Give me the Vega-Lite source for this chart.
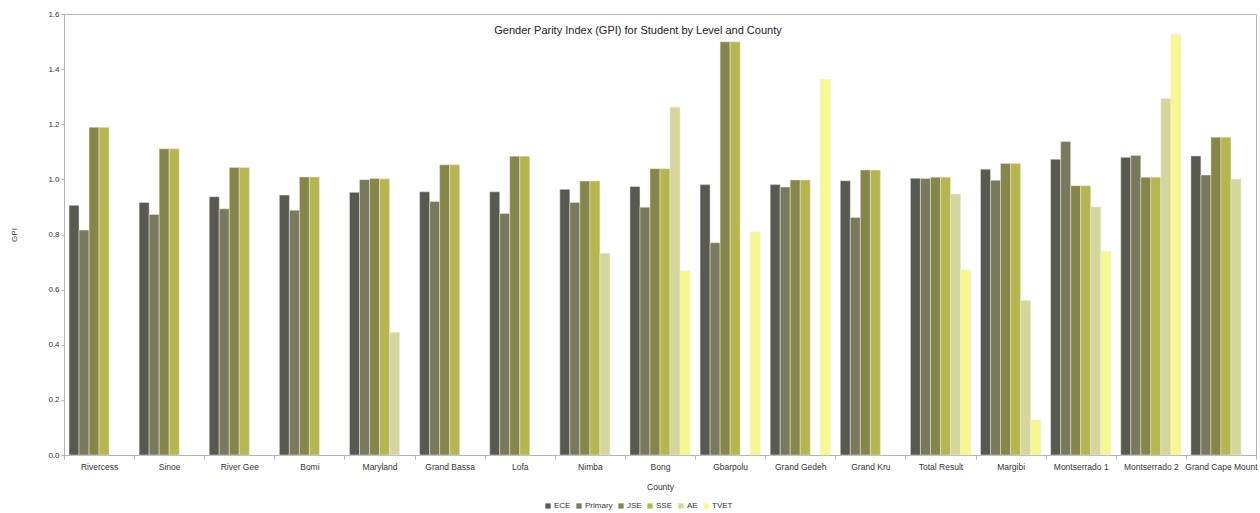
{
  "$schema": "https://vega.github.io/schema/vega-lite/v6.json",
  "width": 1192,
  "height": 441,
  "autosize": {"type": "none"},
  "padding": {"left": 64, "top": 14, "right": 4, "bottom": 58},
  "background": "white",
  "title": {
    "text": "Gender Parity Index (GPI) for Student by Level and County",
    "font": "Liberation Sans",
    "fontSize": 11,
    "fontWeight": "normal",
    "color": "#222222",
    "anchor": "middle",
    "baseline": "middle",
    "dx": -22,
    "offset": -32
  },
  "config": {
    "font": "Liberation Sans",
    "view": {"stroke": "#b3b3b3", "strokeWidth": 1},
    "axis": {"grid": false, "domainColor": "#b3b3b3", "tickColor": "#b3b3b3", "labelColor": "#333333", "titleColor": "#333333", "labelFont": "Liberation Sans", "titleFont": "Liberation Sans", "titleFontWeight": "normal"}
  },
  "data": {
    "values": [
      {"County": "Rivercess", "Level": "ECE", "GPI": 0.906},
      {"County": "Rivercess", "Level": "Primary", "GPI": 0.816},
      {"County": "Rivercess", "Level": "JSE", "GPI": 1.189},
      {"County": "Rivercess", "Level": "SSE", "GPI": 1.189},
      {"County": "Sinoe", "Level": "ECE", "GPI": 0.916},
      {"County": "Sinoe", "Level": "Primary", "GPI": 0.873},
      {"County": "Sinoe", "Level": "JSE", "GPI": 1.111},
      {"County": "Sinoe", "Level": "SSE", "GPI": 1.111},
      {"County": "River Gee", "Level": "ECE", "GPI": 0.937},
      {"County": "River Gee", "Level": "Primary", "GPI": 0.893},
      {"County": "River Gee", "Level": "JSE", "GPI": 1.043},
      {"County": "River Gee", "Level": "SSE", "GPI": 1.043},
      {"County": "Bomi", "Level": "ECE", "GPI": 0.943},
      {"County": "Bomi", "Level": "Primary", "GPI": 0.888},
      {"County": "Bomi", "Level": "JSE", "GPI": 1.009},
      {"County": "Bomi", "Level": "SSE", "GPI": 1.009},
      {"County": "Maryland", "Level": "ECE", "GPI": 0.953},
      {"County": "Maryland", "Level": "Primary", "GPI": 0.999},
      {"County": "Maryland", "Level": "JSE", "GPI": 1.003},
      {"County": "Maryland", "Level": "SSE", "GPI": 1.002},
      {"County": "Maryland", "Level": "AE", "GPI": 0.445},
      {"County": "Grand Bassa", "Level": "ECE", "GPI": 0.955},
      {"County": "Grand Bassa", "Level": "Primary", "GPI": 0.920},
      {"County": "Grand Bassa", "Level": "JSE", "GPI": 1.053},
      {"County": "Grand Bassa", "Level": "SSE", "GPI": 1.053},
      {"County": "Lofa", "Level": "ECE", "GPI": 0.955},
      {"County": "Lofa", "Level": "Primary", "GPI": 0.876},
      {"County": "Lofa", "Level": "JSE", "GPI": 1.084},
      {"County": "Lofa", "Level": "SSE", "GPI": 1.084},
      {"County": "Nimba", "Level": "ECE", "GPI": 0.964},
      {"County": "Nimba", "Level": "Primary", "GPI": 0.916},
      {"County": "Nimba", "Level": "JSE", "GPI": 0.994},
      {"County": "Nimba", "Level": "SSE", "GPI": 0.994},
      {"County": "Nimba", "Level": "AE", "GPI": 0.732},
      {"County": "Bong", "Level": "ECE", "GPI": 0.974},
      {"County": "Bong", "Level": "Primary", "GPI": 0.899},
      {"County": "Bong", "Level": "JSE", "GPI": 1.039},
      {"County": "Bong", "Level": "SSE", "GPI": 1.039},
      {"County": "Bong", "Level": "AE", "GPI": 1.262},
      {"County": "Bong", "Level": "TVET", "GPI": 0.668},
      {"County": "Gbarpolu", "Level": "ECE", "GPI": 0.981},
      {"County": "Gbarpolu", "Level": "Primary", "GPI": 0.770},
      {"County": "Gbarpolu", "Level": "JSE", "GPI": 1.499},
      {"County": "Gbarpolu", "Level": "SSE", "GPI": 1.499},
      {"County": "Gbarpolu", "Level": "TVET", "GPI": 0.809},
      {"County": "Grand Gedeh", "Level": "ECE", "GPI": 0.981},
      {"County": "Grand Gedeh", "Level": "Primary", "GPI": 0.972},
      {"County": "Grand Gedeh", "Level": "JSE", "GPI": 0.998},
      {"County": "Grand Gedeh", "Level": "SSE", "GPI": 0.998},
      {"County": "Grand Gedeh", "Level": "TVET", "GPI": 1.362},
      {"County": "Grand Kru", "Level": "ECE", "GPI": 0.995},
      {"County": "Grand Kru", "Level": "Primary", "GPI": 0.862},
      {"County": "Grand Kru", "Level": "JSE", "GPI": 1.034},
      {"County": "Grand Kru", "Level": "SSE", "GPI": 1.034},
      {"County": "Total Result", "Level": "ECE", "GPI": 1.004},
      {"County": "Total Result", "Level": "Primary", "GPI": 1.003},
      {"County": "Total Result", "Level": "JSE", "GPI": 1.008},
      {"County": "Total Result", "Level": "SSE", "GPI": 1.008},
      {"County": "Total Result", "Level": "AE", "GPI": 0.947},
      {"County": "Total Result", "Level": "TVET", "GPI": 0.671},
      {"County": "Margibi", "Level": "ECE", "GPI": 1.037},
      {"County": "Margibi", "Level": "Primary", "GPI": 0.997},
      {"County": "Margibi", "Level": "JSE", "GPI": 1.058},
      {"County": "Margibi", "Level": "SSE", "GPI": 1.058},
      {"County": "Margibi", "Level": "AE", "GPI": 0.561},
      {"County": "Margibi", "Level": "TVET", "GPI": 0.127},
      {"County": "Montserrado 1", "Level": "ECE", "GPI": 1.073},
      {"County": "Montserrado 1", "Level": "Primary", "GPI": 1.137},
      {"County": "Montserrado 1", "Level": "JSE", "GPI": 0.977},
      {"County": "Montserrado 1", "Level": "SSE", "GPI": 0.977},
      {"County": "Montserrado 1", "Level": "AE", "GPI": 0.900},
      {"County": "Montserrado 1", "Level": "TVET", "GPI": 0.738},
      {"County": "Montserrado 2", "Level": "ECE", "GPI": 1.080},
      {"County": "Montserrado 2", "Level": "Primary", "GPI": 1.087},
      {"County": "Montserrado 2", "Level": "JSE", "GPI": 1.008},
      {"County": "Montserrado 2", "Level": "SSE", "GPI": 1.008},
      {"County": "Montserrado 2", "Level": "AE", "GPI": 1.293},
      {"County": "Montserrado 2", "Level": "TVET", "GPI": 1.526},
      {"County": "Grand Cape Mount", "Level": "ECE", "GPI": 1.085},
      {"County": "Grand Cape Mount", "Level": "Primary", "GPI": 1.016},
      {"County": "Grand Cape Mount", "Level": "JSE", "GPI": 1.153},
      {"County": "Grand Cape Mount", "Level": "SSE", "GPI": 1.153},
      {"County": "Grand Cape Mount", "Level": "AE", "GPI": 1.001}
    ]
  },
  "mark": {"type": "bar", "stroke": "#e8e8e8", "strokeWidth": 0.5},
  "encoding": {
    "x": {
      "field": "County",
      "type": "nominal",
      "sort": null,
      "scale": {"paddingInner": 0, "paddingOuter": 0},
      "axis": {"labelAngle": 0, "labelFontSize": 8.5, "tickBand": "extent", "tickSize": 4, "labelPadding": 3, "title": "County", "titleFontSize": 8.5, "titlePadding": 12}
    },
    "xOffset": {
      "field": "Level",
      "type": "nominal",
      "sort": ["ECE", "Primary", "JSE", "SSE", "AE", "TVET"],
      "scale": {"paddingInner": 0, "paddingOuter": 0.5}
    },
    "y": {
      "field": "GPI",
      "type": "quantitative",
      "scale": {"domain": [0, 1.6], "nice": false},
      "axis": {"values": [0, 0.2, 0.4, 0.6, 0.8, 1.0, 1.2, 1.4, 1.6], "format": ".1f", "labelFontSize": 8, "tickSize": 3, "title": "GPI", "titleFontSize": 8, "titlePadding": 29}
    },
    "color": {
      "field": "Level",
      "type": "nominal",
      "scale": {
        "domain": ["ECE", "Primary", "JSE", "SSE", "AE", "TVET"],
        "range": ["#585950", "#79795c", "#86864a", "#b6b64f", "#d6d69c", "#f8f890"]
      },
      "legend": {"orient": "none", "legendX": 480, "legendY": 488, "direction": "horizontal", "title": null, "symbolType": "square", "symbolSize": 28, "symbolStrokeWidth": 0, "labelFontSize": 8, "labelColor": "#333333", "labelOffset": 2, "columnPadding": 4}
    }
  }
}
